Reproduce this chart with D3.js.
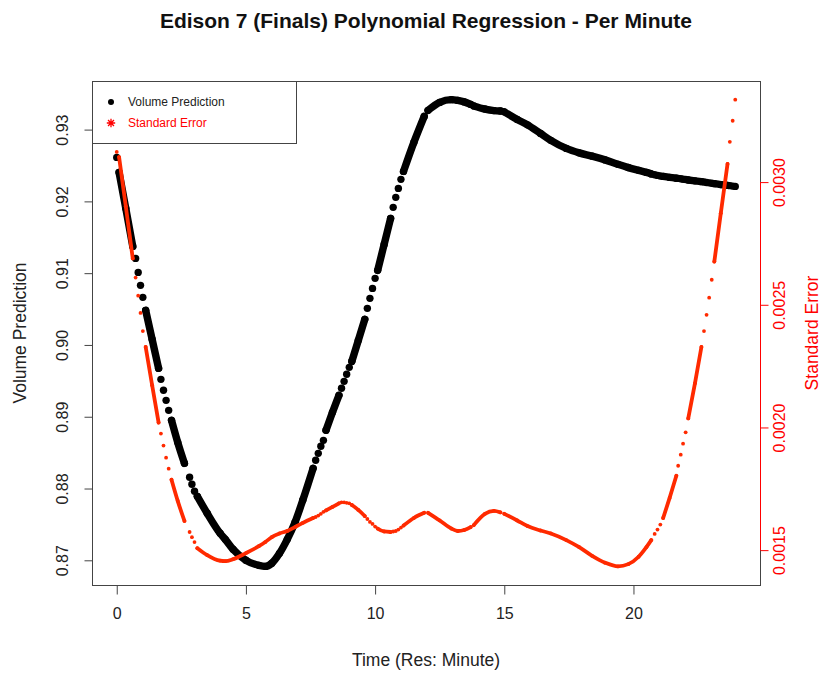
<!DOCTYPE html>
<html>
<head>
<meta charset="utf-8">
<script src="https://cdn.jsdelivr.net/npm/d3@7"></script>
<style>
  body { margin: 0; background: #ffffff; }
  svg { display: block; font-family: "Liberation Sans", Arial, Helvetica, sans-serif; }
</style>
</head>
<body>
<svg id="chart" width="821" height="673"></svg>
<script>
// Sample times (minutes) of the fitted curve
const minute = [
  0.00,
  0.09, 0.35, 0.62,
  0.73, 0.83, 0.92, 1.01,
  1.12, 1.37, 1.62,
  1.71, 1.81, 1.91, 2.01,
  2.12, 2.36, 2.62,
  2.82, 2.91, 3.01,
  3.12, 3.50, 4.00, 4.20, 4.50, 5.00, 5.50, 5.75, 6.00, 6.30, 6.60, 6.90, 7.20, 7.60,
  7.70, 7.80, 7.90, 8.00,
  8.10, 8.35, 8.60,
  8.70, 8.80, 8.90, 9.00,
  9.10, 9.35, 9.60,
  9.70, 9.80, 9.90, 10.00,
  10.10, 10.35, 10.60,
  10.70, 10.80, 10.90, 11.00,
  11.10, 11.50, 11.90,
  12.05, 12.50, 12.95, 13.20, 13.45, 13.70,
  13.82, 14.25, 14.60, 14.85,
  15.00, 15.50, 15.90, 16.40, 16.80, 17.40, 17.90, 18.40, 18.90, 19.40, 19.80, 20.20, 20.50, 20.69,
  20.82, 20.93, 21.04,
  21.15, 21.40, 21.66,
  21.73, 21.83, 21.92, 22.02,
  22.12, 22.38, 22.63,
  22.73, 22.83, 22.93, 23.03,
  23.13, 23.38, 23.64,
  23.73, 23.84, 23.94
];

// Predicted volume at each sample
const prediction = [
  0.92613,
  0.92404, 0.91903, 0.91373,
  0.91206, 0.91011, 0.90830, 0.90663,
  0.90482, 0.90078, 0.89674,
  0.89521, 0.89368, 0.89228, 0.89089,
  0.88950, 0.88643, 0.88351,
  0.88156, 0.88059, 0.87961,
  0.87891, 0.87655, 0.87376, 0.87292, 0.87153, 0.87000, 0.86930, 0.86916, 0.86958, 0.87097, 0.87292, 0.87529, 0.87836, 0.88281,
  0.88393, 0.88490, 0.88588, 0.88671,
  0.88811, 0.89061, 0.89298,
  0.89396, 0.89493, 0.89591, 0.89688,
  0.89772, 0.90064, 0.90357,
  0.90510, 0.90649, 0.90788, 0.90928,
  0.91039, 0.91401, 0.91763,
  0.91917, 0.92056, 0.92181, 0.92307,
  0.92418, 0.92822, 0.93184,
  0.93268, 0.93379, 0.93417, 0.93407, 0.93386, 0.93351,
  0.93330, 0.93286, 0.93265, 0.93259,
  0.93247, 0.93142, 0.93066, 0.92947, 0.92850, 0.92738, 0.92676, 0.92630, 0.92578, 0.92516, 0.92471, 0.92432, 0.92404, 0.92383,
  0.92372, 0.92362, 0.92354,
  0.92348, 0.92334, 0.92323,
  0.92321, 0.92315, 0.92309, 0.92304,
  0.92298, 0.92286, 0.92275,
  0.92269, 0.92263, 0.92258, 0.92252,
  0.92247, 0.92234, 0.92223,
  0.92219, 0.92213, 0.92209
];

// Standard error of the prediction at each sample
const stdError = [
  0.003123,
  0.003102, 0.002902, 0.002689,
  0.002611, 0.002537, 0.002467, 0.002393,
  0.002328, 0.002172, 0.002020,
  0.001975, 0.001926, 0.001877, 0.001832,
  0.001787, 0.001701, 0.001619,
  0.001574, 0.001553, 0.001533,
  0.001508, 0.001480, 0.001457, 0.001455, 0.001463, 0.001488, 0.001516, 0.001533, 0.001553, 0.001568, 0.001578, 0.001594, 0.001611, 0.001631,
  0.001635, 0.001641, 0.001648, 0.001656,
  0.001662, 0.001676, 0.001691,
  0.001695, 0.001695, 0.001693, 0.001691,
  0.001684, 0.001664, 0.001639,
  0.001627, 0.001615, 0.001607, 0.001596,
  0.001588, 0.001576, 0.001574,
  0.001576, 0.001578, 0.001584, 0.001592,
  0.001600, 0.001631, 0.001652,
  0.001652, 0.001621, 0.001588, 0.001578, 0.001582, 0.001594,
  0.001602, 0.001648, 0.001660, 0.001654,
  0.001648, 0.001621, 0.001598, 0.001580, 0.001568, 0.001541, 0.001512, 0.001477, 0.001449, 0.001434, 0.001443, 0.001473, 0.001512, 0.001541,
  0.001566, 0.001584, 0.001604,
  0.001631, 0.001713, 0.001803,
  0.001844, 0.001889, 0.001934, 0.001980,
  0.002037, 0.002180, 0.002328,
  0.002393, 0.002459, 0.002529, 0.002602,
  0.002676, 0.002873, 0.003074,
  0.003164, 0.003250, 0.003336
];

// Samples sharing a run id were recorded back to back (drawn as one continuous stroke)
const run = [
  0,
  1, 1, 1,
  2, 3, 4, 5,
  6, 6, 6,
  7, 8, 9, 10,
  11, 11, 11,
  12, 13, 14,
  15, 15, 15, 15, 15, 15, 15, 15, 15, 15, 15, 15, 15, 15,
  16, 17, 18, 19,
  20, 20, 20,
  21, 22, 23, 24,
  25, 25, 25,
  26, 27, 28, 29,
  30, 30, 30,
  31, 32, 33, 34,
  35, 35, 35,
  36, 36, 36, 36, 36, 36,
  37, 37, 37, 37,
  38, 38, 38, 38, 38, 38, 38, 38, 38, 38, 38, 38, 38, 38,
  39, 40, 41,
  42, 42, 42,
  43, 44, 45, 46,
  47, 47, 47,
  48, 49, 50, 51,
  52, 52, 52,
  53, 54, 55
];

const xTicks = [0, 5, 10, 15, 20];
const predTicks = [0.87, 0.88, 0.89, 0.90, 0.91, 0.92, 0.93];
const seTicks = [0.0015, 0.0020, 0.0025, 0.0030];

const titleText = "Edison 7 (Finals) Polynomial Regression - Per Minute";
const xLabel = "Time (Res: Minute)";
const yLeftLabel = "Volume Prediction";
const yRightLabel = "Standard Error";
const legendLabels = ["Volume Prediction", "Standard Error"];

// ---------------------------------------------------------------
const svg = d3.select("#chart");
const box = { left: 92, right: 760, top: 81, bottom: 585 };
const RED = "#ff0000";
const RED_MARK = "#ff2a00";
const INK = "#222222";
const FONT = "Liberation Sans, Arial, sans-serif";
const TICK_FS = 16;
const LAB_FS = 17.5;

// extend a data range by 4% on each side
const padded = ([a, b]) => [a - 0.04 * (b - a), b + 0.04 * (b - a)];

const x = d3.scaleLinear().domain(padded(d3.extent(minute))).range([box.left, box.right]);
const yL = d3.scaleLinear().domain(padded(d3.extent(prediction))).range([box.bottom, box.top]);
const yR = d3.scaleLinear().domain(padded(d3.extent(stdError))).range([box.bottom, box.top]);

const idx = d3.range(minute.length);
const runs = d3.groups(idx, i => run[i]).map(d => d[1]);

function drawSeries(values, yScale, color, r) {
  const g = svg.append("g");
  const line = d3.line()
    .x(i => x(minute[i]))
    .y(i => yScale(values[i]))
    .curve(d3.curveMonotoneX);
  g.selectAll("path")
    .data(runs.filter(r => r.length > 1))
    .join("path")
    .attr("d", line)
    .attr("fill", "none")
    .attr("stroke", color)
    .attr("stroke-width", r * 2)
    .attr("stroke-linecap", "round")
    .attr("stroke-linejoin", "round");
  g.selectAll("circle")
    .data(idx)
    .join("circle")
    .attr("cx", i => x(minute[i]))
    .attr("cy", i => yScale(values[i]))
    .attr("r", r)
    .attr("fill", color);
}

drawSeries(prediction, yL, "#000000", 3.7);
drawSeries(stdError, yR, RED_MARK, 1.9);

// plot frame
svg.append("rect")
  .attr("x", box.left + 0.5).attr("y", box.top + 0.5)
  .attr("width", box.right - box.left).attr("height", box.bottom - box.top)
  .attr("fill", "none").attr("stroke", "#444").attr("stroke-width", 1);

// bottom axis
const xAxis = svg.append("g")
  .attr("transform", `translate(0,${box.bottom + 0.5})`)
  .call(d3.axisBottom(x).tickValues(xTicks).tickSize(9).tickPadding(13).tickFormat(d3.format("d")));
xAxis.select(".domain").remove();
xAxis.selectAll("line").attr("stroke", "#444");
xAxis.selectAll("text").attr("fill", INK).attr("font-size", TICK_FS).attr("font-family", FONT);

// left axis, labels parallel to the axis
const yAxisL = svg.append("g")
  .attr("transform", `translate(${box.left + 0.5},0)`)
  .call(d3.axisLeft(yL).tickValues(predTicks).tickSize(8).tickFormat(d3.format(".2f")));
yAxisL.select(".domain").remove();
yAxisL.selectAll("line").attr("stroke", "#444");
yAxisL.selectAll("text")
  .attr("fill", INK).attr("font-size", TICK_FS).attr("font-family", FONT)
  .attr("x", null).attr("dy", null)
  .attr("text-anchor", "middle")
  .attr("transform", "translate(-30,0) rotate(-90)")
  .attr("dominant-baseline", "central");

// right axis (standard error), red
const yAxisR = svg.append("g")
  .attr("transform", `translate(${box.right + 0.5},0)`)
  .call(d3.axisRight(yR).tickValues(seTicks).tickSize(8).tickFormat(d3.format(".4f")));
yAxisR.select(".domain").remove();
yAxisR.append("line")
  .attr("x1", 0).attr("x2", 0)
  .attr("y1", yR(seTicks[0])).attr("y2", yR(seTicks[seTicks.length - 1]))
  .attr("stroke", RED);
yAxisR.selectAll(".tick line").attr("stroke", RED);
yAxisR.selectAll("text")
  .attr("fill", RED).attr("font-size", TICK_FS).attr("font-family", FONT)
  .attr("x", null).attr("dy", null)
  .attr("text-anchor", "middle")
  .attr("transform", "translate(19,0) rotate(-90)")
  .attr("dominant-baseline", "central");

// titles
svg.append("text")
  .attr("x", (box.left + box.right) / 2).attr("y", 28)
  .attr("text-anchor", "middle")
  .attr("font-weight", "bold").attr("font-size", 21).attr("fill", "#111")
  .text(titleText);

svg.append("text")
  .attr("x", (box.left + box.right) / 2).attr("y", 666)
  .attr("text-anchor", "middle")
  .attr("font-size", LAB_FS).attr("fill", INK)
  .text(xLabel);

svg.append("text")
  .attr("transform", `translate(20,${(box.top + box.bottom) / 2}) rotate(-90)`)
  .attr("text-anchor", "middle").attr("dominant-baseline", "central")
  .attr("font-size", LAB_FS).attr("fill", INK)
  .text(yLeftLabel);

svg.append("text")
  .attr("transform", `translate(812,${(box.top + box.bottom) / 2}) rotate(-90)`)
  .attr("text-anchor", "middle").attr("dominant-baseline", "central")
  .attr("font-size", LAB_FS).attr("fill", RED)
  .text(yRightLabel);

// legend
const lg = svg.append("g");
lg.append("rect")
  .attr("x", box.left + 0.5).attr("y", box.top + 0.5)
  .attr("width", 204).attr("height", 62)
  .attr("fill", "#fff").attr("stroke", "#444");
lg.append("circle").attr("cx", 111).attr("cy", 102).attr("r", 3).attr("fill", "#000");
const ast = d3.path();
const ar = 4.2, ad = ar * Math.SQRT1_2;
ast.moveTo(111 - ar, 123); ast.lineTo(111 + ar, 123);
ast.moveTo(111, 123 - ar); ast.lineTo(111, 123 + ar);
ast.moveTo(111 - ad, 123 - ad); ast.lineTo(111 + ad, 123 + ad);
ast.moveTo(111 - ad, 123 + ad); ast.lineTo(111 + ad, 123 - ad);
lg.append("path").attr("d", ast.toString()).attr("stroke", RED).attr("stroke-width", 1.3).attr("fill", "none");
lg.append("text").attr("x", 128).attr("y", 102).attr("dominant-baseline", "central")
  .attr("font-size", 12).attr("fill", INK).text(legendLabels[0]);
lg.append("text").attr("x", 128).attr("y", 123).attr("dominant-baseline", "central")
  .attr("font-size", 12).attr("fill", RED).text(legendLabels[1]);
</script>
</body>
</html>
